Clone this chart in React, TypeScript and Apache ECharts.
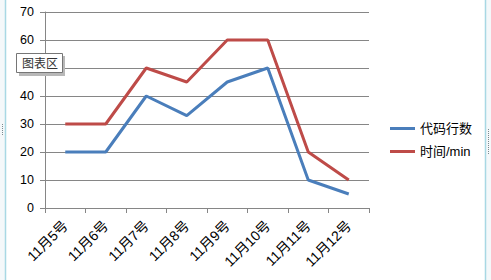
import React, { useEffect, useRef } from "react";
import * as echarts from "echarts";

const categories = ["11月5号", "11月6号", "11月7号", "11月8号", "11月9号", "11月10号", "11月11号", "11月12号"];
const codeLines = [20, 20, 40, 33, 45, 50, 10, 5];
const timeMin = [30, 30, 50, 45, 60, 60, 20, 10];
const seriesNames = ["代码行数", "时间/min"];
const tooltipLabel = "图表区";

const FONT = "'Liberation Sans', 'Noto Sans CJK SC', sans-serif";

export default function App() {
  const ref = useRef<HTMLDivElement>(null);
  useEffect(() => {
    if (!ref.current) return;
    const chart = echarts.init(ref.current, null, { renderer: "svg" });
    chart.setOption({
      animation: false,
      backgroundColor: "#ffffff",
      grid: { left: 45, right: 122, top: 12, bottom: 72, containLabel: false },
      legend: {
        orient: "vertical",
        left: 385,
        top: 117,
        itemWidth: 25,
        itemHeight: 3,
        itemGap: 10,
        icon: "rect",
        textStyle: { fontFamily: FONT, fontSize: 13, color: "#000" },
        data: seriesNames,
      },
      xAxis: {
        type: "category",
        data: categories,
        boundaryGap: true,
        axisLine: { lineStyle: { color: "#868686", width: 1 } },
        axisTick: { show: true, length: 5, lineStyle: { color: "#868686" } },
        axisLabel: { rotate: 45, fontFamily: FONT, fontSize: 14, color: "#000", margin: 15, interval: 0 },
      },
      yAxis: {
        type: "value",
        min: 0,
        max: 70,
        interval: 10,
        axisLine: { show: true, lineStyle: { color: "#868686", width: 1 } },
        axisTick: { show: true, length: 5, lineStyle: { color: "#868686" } },
        axisLabel: { fontFamily: FONT, fontSize: 12.5, color: "#000", margin: 11 },
        splitLine: { lineStyle: { color: "#868686", width: 1 } },
      },
      series: [
        {
          name: seriesNames[0],
          type: "line",
          data: codeLines,
          symbol: "none",
          lineStyle: { color: "#4A7EBB", width: 3 },
          itemStyle: { color: "#4A7EBB" },
        },
        {
          name: seriesNames[1],
          type: "line",
          data: timeMin,
          symbol: "none",
          lineStyle: { color: "#BE4B48", width: 3 },
          itemStyle: { color: "#BE4B48" },
        },
      ],
      graphic: [
        { type: "rect", z: 100, shape: { x: 0, y: 0, width: 5, height: 280 }, style: { fill: "#f4f8fa" }, silent: true },
        { type: "rect", z: 100, shape: { x: 486, y: 0, width: 5, height: 280 }, style: { fill: "#f4f8fa" }, silent: true },
        { type: "line", z: 100, shape: { x1: 5.5, y1: 0, x2: 5.5, y2: 280 }, style: { stroke: "#a8d8e4", lineWidth: 1.5 } },
        { type: "line", z: 100, shape: { x1: 485.5, y1: 0, x2: 485.5, y2: 280 }, style: { stroke: "#a8d8e4", lineWidth: 1.5 } },
        { type: "line", z: 100, shape: { x1: 2.5, y1: 124, x2: 2.5, y2: 136 }, style: { stroke: "#7a8a90", lineWidth: 1, lineDash: [1, 1] } },
        { type: "line", z: 100, shape: { x1: 488.5, y1: 129, x2: 488.5, y2: 155 }, style: { stroke: "#7a8a90", lineWidth: 1, lineDash: [1, 1] } },
        { type: "rect", z: 100, shape: { x: 19, y: 56, width: 46, height: 20 }, style: { fill: "#b8b8b8" } },
        { type: "rect", z: 101, shape: { x: 16.5, y: 53.5, width: 46, height: 19 }, style: { fill: "#ffffff", stroke: "#767676", lineWidth: 1 } },
        {
          type: "text",
          z: 102,
          x: 40,
          y: 63.5,
          style: { text: tooltipLabel, fontFamily: FONT, fontSize: 12, fill: "#333", align: "center", verticalAlign: "middle" },
        },
      ],
    });
    return () => chart.dispose();
  }, []);
  return <div ref={ref} style={{ position: "fixed", left: 0, top: 0, width: 491, height: 280 }} />;
}
